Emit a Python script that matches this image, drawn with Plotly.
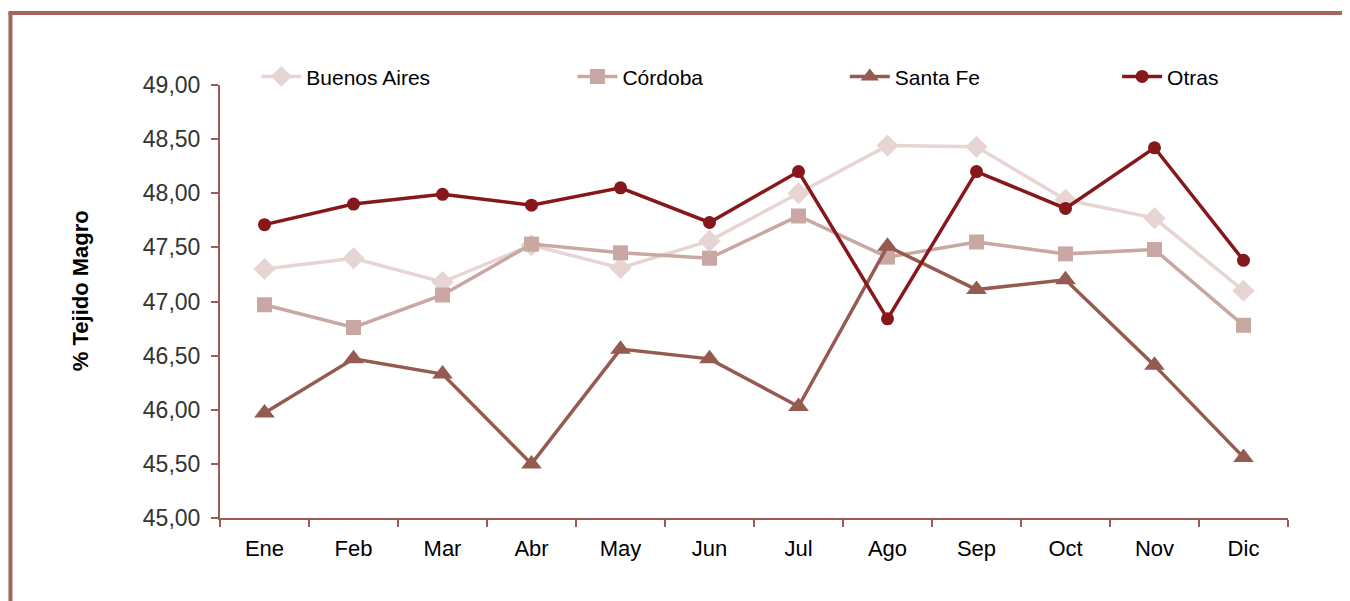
import plotly.graph_objects as go

# --- data ---
meses = ['Ene', 'Feb', 'Mar', 'Abr', 'May', 'Jun', 'Jul', 'Ago', 'Sep', 'Oct', 'Nov', 'Dic']

buenos_aires = [47.30, 47.40, 47.18, 47.52, 47.31, 47.56, 48.00, 48.44, 48.43, 47.94, 47.77, 47.10]
cordoba = [46.97, 46.76, 47.06, 47.53, 47.45, 47.40, 47.79, 47.41, 47.55, 47.44, 47.48, 46.78]
santa_fe = [45.97, 46.47, 46.33, 45.50, 46.56, 46.47, 46.03, 47.51, 47.11, 47.20, 46.41, 45.56]
otras = [47.71, 47.90, 47.99, 47.89, 48.05, 47.73, 48.20, 46.84, 48.20, 47.86, 48.42, 47.38]

FONT = 'Liberation Sans, Arial, sans-serif'
AXIS_COLOR = '#9E5B53'

series = [
    ('Buenos Aires', buenos_aires, '#E6D5D3', 'diamond', 17, 'legend', 0.034),
    ('Córdoba', cordoba, '#C9A7A2', 'square', 15, 'legend2', 0.330),
    ('Santa Fe', santa_fe, '#955B51', 'triangle-up', 18, 'legend3', 0.585),
    ('Otras', otras, '#86181B', 'circle', 13, 'legend4', 0.840),
]

fig = go.Figure()

for name, vals, color, symbol, size, leg, _ in series:
    fig.add_trace(go.Scatter(
        x=meses, y=vals, name=name, mode='lines+markers',
        line=dict(color=color, width=3.5),
        marker=dict(symbol=symbol, size=size, color=color),
        legend=leg,
    ))

# one legend per series so each entry sits where it does in the original
legend_style = dict(
    orientation='h', yanchor='middle', y=1.019, xanchor='left',
    font=dict(family=FONT, size=21, color='#000000'),
    bgcolor='rgba(0,0,0,0)', borderwidth=0, itemwidth=40,
)
legends = {}
for name, _, _, _, _, leg, lx in series:
    legends[leg] = dict(legend_style, x=lx)

fig.update_layout(
    # the page adds an 8px body margin, so the figure is nudged up/left
    width=1342, height=593,
    margin=dict(l=212, r=62, t=77, b=83),
    paper_bgcolor='white', plot_bgcolor='white',
    font=dict(family=FONT, size=21, color='#000000'),
    separators=',.',
    showlegend=True,
    **legends,
    xaxis=dict(
        type='category', range=[-0.5, 11.5],
        showline=True, linecolor=AXIS_COLOR, linewidth=2,
        ticks='outside', tickson='boundaries', ticklen=7, tickwidth=2, tickcolor=AXIS_COLOR,
        showgrid=False, zeroline=False, ticklabelstandoff=10,
        tickfont=dict(family=FONT, size=22, color='#000000'),
    ),
    yaxis=dict(
        range=[45, 49], dtick=0.5, tickformat='.2f',
        showline=True, linecolor=AXIS_COLOR, linewidth=2,
        ticks='outside', ticklen=7, tickwidth=2, tickcolor=AXIS_COLOR,
        showgrid=False, zeroline=False, ticklabelstandoff=6,
        tickfont=dict(family=FONT, size=23, color='#333333'),
    ),
    # y title as an annotation: it sits a bit above the plot's middle in the original
    annotations=[
        dict(text='<b>% Tejido Magro</b>', xref='paper', yref='paper', x=-0.131, y=0.524,
             textangle=-90, showarrow=False, xanchor='center', yanchor='middle',
             font=dict(family=FONT, size=22, color='#000000')),
    ],
    shapes=[
        # partial outer frame (left and top edges visible)
        dict(type='line', xref='paper', yref='paper', x0=-0.1962, x1=-0.1962, y0=-0.25, y1=1.1663,
             line=dict(color='#A3655D', width=4)),
        dict(type='line', xref='paper', yref='paper', x0=-0.1981, x1=1.08, y0=1.1663, y1=1.1663,
             line=dict(color='#A3655D', width=4)),
    ],
)

fig.write_html("out.html")
